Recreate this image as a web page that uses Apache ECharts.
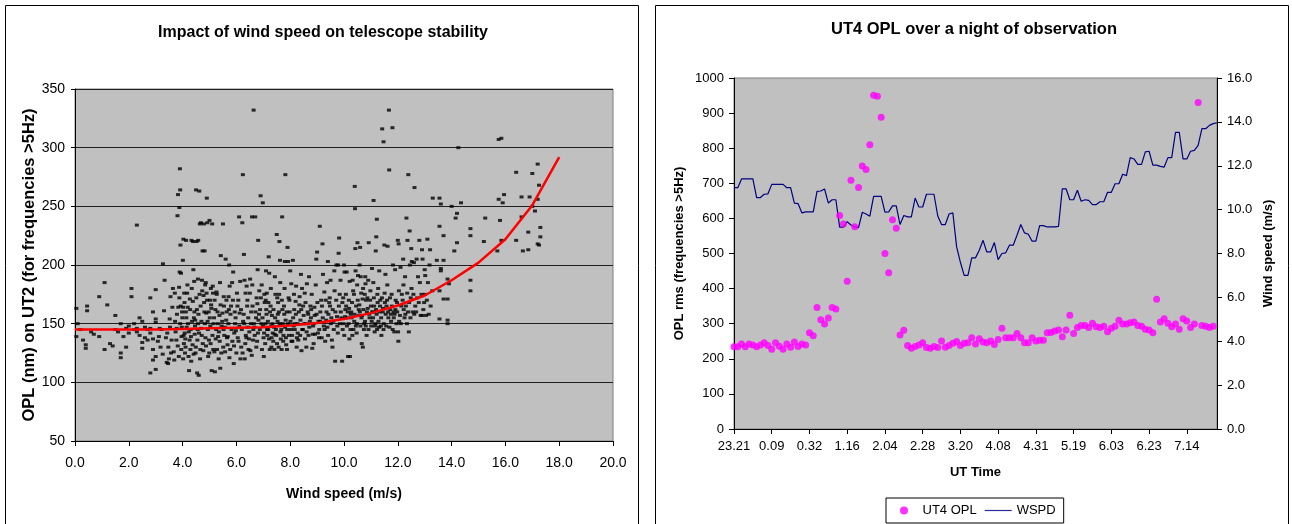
<!DOCTYPE html>
<html>
<head>
<meta charset="utf-8">
<script src="https://cdn.jsdelivr.net/npm/echarts@6/dist/echarts.min.js"></script>
<style>
html,body{margin:0;padding:0;background:#fff;}
#chart{width:1292px;height:524px;}
</style>
</head>
<body>
<div id="chart"></div>
<script>
// ---------- Left chart: OPL on UT2 vs wind speed ----------
const speedTicks = [0, 2, 4, 6, 8, 10, 12, 14, 16, 18, 20];
const ut2Points = [
[0.05,163],[0.05,139],[0.1,150],[0.2,145],[0.3,136],[0.4,132],[0.4,129],[0.45,165],[0.45,161],[0.6,143],[0.7,141],[0.9,173],[0.9,139],
[1.1,185],[1.1,128],[1.2,166],[1.3,133],[1.4,131],[1.5,157],[1.5,145],[1.6,143],[1.7,125],[1.7,121],[1.7,150],[1.8,139],[1.9,146],[1.9,130],[2.0,142],[2.0,148],
[2.1,180],[2.1,173],[2.2,150],[2.2,145],[2.3,234],[2.3,146],[2.3,143],[2.4,155],[2.4,140],[2.5,134],[2.5,152],[2.5,129],[2.6,138],[2.6,147],[2.7,145],[2.7,136],[2.8,146],[2.8,108],[2.8,142],[2.8,172],[2.9,160],[2.9,119],[2.9,128],[2.9,137],[3.0,154],[3.0,111],[3.0,122],[3.0,179],[3.0,151],
[3.12,139],[3.08,135],[3.15,146],[3.22,145],[3.18,130],[3.27,201],[3.33,187],[3.31,161],[3.26,124],[3.43,142],[3.38,138],[3.41,117],[3.46,116],[3.52,154],[3.47,130],[3.55,173],[3.49,120],[3.53,147],[3.62,164],[3.57,125],[3.64,180],[3.59,136],[3.72,152],[3.67,126],[3.74,143],[3.69,119],[3.71,176],[3.82,131],[3.77,136],[3.84,164],[3.81,242],[3.83,260],[3.79,158],[3.86,122],[3.78,146],
[3.91,264],[3.9,282],[3.88,249],[3.92,217],[3.89,194],[3.94,193],[3.87,181],[3.93,165],[3.96,139],[3.91,150],[3.95,128],[3.88,172],[4.02,164],[3.98,160],[4.04,140],[4.01,204],[4.03,222],[3.99,155],[4.05,133],[4.02,120],[3.97,147],[4.06,176],
[4.13,221],[4.08,142],[4.15,147],[4.11,130],[4.07,168],[4.14,155],[4.1,137],[4.17,176],[4.09,125],[4.12,160],
[4.22,122],[4.18,183],[4.24,110],[4.2,150],[4.26,136],[4.19,164],[4.23,143],[4.27,171],
[4.32,118],[4.28,162],[4.33,221],[4.31,139],[4.35,152],[4.29,128],[4.34,180],[4.3,145],
[4.42,155],[4.38,169],[4.45,141],[4.4,196],[4.43,186],[4.37,132],[4.46,148],[4.41,124],[4.39,220],[4.44,160],
[4.52,220],[4.48,125],[4.55,136],[4.51,172],[4.47,153],[4.54,108],[4.5,264],[4.56,145],[4.49,130],[4.53,162],[4.57,188],
[4.6,106],[4.62,263],[4.58,221],[4.64,235],[4.61,142],[4.59,158],[4.66,128],[4.63,175],[4.57,150],[4.65,120],
[4.72,187],[4.68,236],[4.74,212],[4.71,140],[4.67,165],[4.75,133],[4.7,152],[4.73,178],[4.69,146],
[4.82,212],[4.79,235],[4.84,183],[4.78,174],[4.81,160],[4.85,138],[4.77,127],[4.83,150],[4.8,168],[4.86,185],
[4.9,257],[4.92,236],[4.88,159],[4.94,145],[4.91,170],[4.87,131],[4.95,122],[4.89,176],[4.93,152],
[5.02,170],[4.98,136],[5.04,133],[5.0,238],[4.97,160],[5.03,148],[5.05,180],[4.99,125],[5.01,155],[5.06,166],
[5.1,235],[5.13,176],[5.08,110],[5.15,150],[5.11,140],[5.07,163],[5.14,128],[5.12,182],
[5.22,162],[5.18,126],[5.2,109],[5.25,145],[5.19,170],[5.23,137],[5.17,155],[5.26,177],
[5.32,139],[5.28,128],[5.35,143],[5.3,160],[5.27,175],[5.34,120],[5.31,150],
[5.4,112],[5.42,208],[5.38,135],[5.45,148],[5.41,166],[5.37,157],[5.44,125],[5.39,185],
[5.5,235],[5.53,173],[5.48,159],[5.55,140],[5.51,130],[5.47,152],[5.54,165],[5.52,145],
[5.62,153],[5.6,205],[5.65,138],[5.58,126],[5.63,170],[5.57,147],[5.64,160],
[5.72,162],[5.68,139],[5.75,182],[5.7,150],[5.67,132],[5.74,121],[5.71,173],[5.73,200],
[5.82,145],[5.78,158],[5.85,135],[5.8,165],[5.77,128],[5.84,185],
[5.9,116],[5.92,142],[5.88,194],[5.95,150],[5.91,131],[5.87,170],[5.94,160],
[6.02,176],[5.98,144],[6.05,138],[6.0,125],[5.97,155],[6.04,165],
[6.12,159],[6.1,241],[6.08,135],[6.15,120],[6.11,148],[6.07,170],[6.14,186],
[6.22,236],[6.24,277],[6.18,130],[6.25,152],[6.2,145],[6.17,162],[6.23,125],
[6.3,187],[6.33,133],[6.28,209],[6.35,140],[6.31,120],[6.27,158],[6.34,176],[6.29,150],
[6.42,147],[6.38,182],[6.45,128],[6.4,165],[6.37,138],[6.44,155],[6.41,170],
[6.52,127],[6.48,143],[6.55,160],[6.5,176],[6.47,137],[6.54,150],[6.51,188],
[6.62,136],[6.64,332],[6.58,241],[6.65,150],[6.6,165],[6.57,123],[6.63,145],[6.59,183],
[6.7,241],[6.73,155],[6.68,140],[6.75,172],[6.71,160],[6.67,147],[6.74,130],
[6.82,153],[6.78,167],[6.85,178],[6.8,142],[6.77,135],[6.84,158],[6.81,221],[6.79,196],
[6.9,259],[6.93,150],[6.88,162],[6.95,128],[6.91,172],[6.87,145],[6.94,183],
[6.98,253],[7.03,142],[6.97,155],[7.05,168],[7.01,138],[6.99,148],[7.04,175],[7.02,122],
[7.1,195],[7.13,176],[7.08,150],[7.15,140],[7.11,162],[7.07,133],[7.14,145],[7.12,158],[7.09,170],
[7.2,207],[7.22,193],[7.18,145],[7.25,160],[7.21,137],[7.17,152],[7.24,128],[7.19,168],
[7.32,157],[7.28,180],[7.35,142],[7.3,130],[7.27,165],[7.34,150],[7.31,138],[7.29,148],
[7.42,141],[7.38,162],[7.45,175],[7.4,147],[7.37,135],[7.44,155],[7.41,128],[7.43,190],
[7.5,226],[7.53,152],[7.48,140],[7.55,168],[7.51,133],[7.47,145],[7.54,158],[7.52,172],
[7.6,220],[7.62,204],[7.58,160],[7.65,137],[7.61,150],[7.57,130],[7.64,143],[7.59,175],[7.63,185],
[7.7,241],[7.72,150],[7.68,128],[7.75,140],[7.71,162],[7.67,145],[7.74,135],[7.69,170],
[7.82,277],[7.8,203],[7.78,158],[7.85,132],[7.81,147],[7.77,165],[7.84,138],[7.79,180],[7.83,153],
[7.9,215],[7.92,203],[7.88,128],[7.95,140],[7.91,150],[7.87,160],[7.94,172],[7.89,145],
[8.0,195],[8.03,145],[7.98,160],[8.05,135],[8.01,152],[7.97,170],[8.04,184],
[8.1,204],[8.13,148],[8.08,135],[8.15,162],[8.11,155],[8.07,140],[8.14,175],
[8.2,169],[8.22,182],[8.18,150],[8.25,138],[8.21,158],[8.17,145],[8.24,130],
[8.32,160],[8.28,142],[8.35,173],[8.3,136],[8.27,150],[8.34,166],
[8.4,192],[8.42,127],[8.38,153],[8.45,145],[8.41,162],[8.37,140],[8.44,180],
[8.52,150],[8.48,165],[8.55,137],[8.5,157],[8.47,145],[8.54,176],
[8.6,130],[8.62,184],[8.58,150],[8.65,160],[8.61,143],[8.57,168],
[8.7,190],[8.73,152],[8.68,140],[8.75,165],[8.71,147],[8.67,158],
[8.82,129],[8.78,162],[8.85,148],[8.8,175],[8.77,155],[8.84,141],
[8.9,164],[8.92,141],[8.88,150],[8.95,183],[8.91,157],[8.87,133],
[9.0,211],[9.03,142],[8.98,158],[9.05,152],[9.01,168],[8.97,205],
[9.1,233],[9.12,160],[9.08,145],[9.15,170],[9.11,152],[9.07,138],
[9.2,218],[9.22,192],[9.18,165],[9.25,148],[9.21,155],[9.17,138],
[9.32,170],[9.28,145],[9.35,160],[9.3,135],[9.27,177],[9.34,153],
[9.4,203],[9.42,158],[9.38,147],[9.45,168],[9.41,140],[9.37,185],
[9.5,187],[9.53,155],[9.48,165],[9.55,136],[9.51,150],[9.47,172],
[9.62,145],[9.58,162],[9.65,178],[9.6,152],[9.57,130],[9.64,195],
[9.67,118],[9.72,200],[9.68,160],[9.75,148],[9.71,170],[9.74,156],
[9.8,210],[9.82,223],[9.78,200],[9.85,150],[9.81,165],[9.77,142],[9.84,175],
[9.93,118],[9.88,160],[9.95,145],[9.9,155],[9.87,187],[9.94,168],
[10.0,200],[10.02,194],[9.98,150],[10.05,162],[10.01,140],[9.97,172],[10.04,156],
[10.1,194],[10.15,122],[10.08,165],[10.13,155],[10.11,148],[10.07,175],[10.14,160],
[10.2,137],[10.22,122],[10.18,170],[10.25,158],[10.21,186],[10.17,150],[10.24,145],[10.19,163],
[10.32,187],[10.28,155],[10.35,145],[10.3,168],[10.27,160],[10.34,178],[10.31,140],
[10.4,267],[10.41,248],[10.42,214],[10.38,152],[10.45,165],[10.37,175],[10.44,148],[10.39,158],[10.43,195],
[10.5,219],[10.52,191],[10.48,150],[10.55,162],[10.51,170],[10.47,142],[10.54,157],[10.49,183],
[10.62,190],[10.6,215],[10.58,200],[10.65,155],[10.61,148],[10.57,166],[10.64,176],[10.59,160],
[10.7,130],[10.66,133],[10.72,162],[10.75,150],[10.71,180],[10.67,157],[10.74,145],[10.69,171],
[10.8,184],[10.82,170],[10.78,152],[10.85,160],[10.81,148],[10.77,175],[10.84,140],[10.79,190],
[10.9,187],[10.92,219],[10.88,163],[10.95,155],[10.91,145],[10.87,172],[10.94,158],
[11.0,165],[11.03,152],[10.98,178],[11.05,160],[11.01,148],[10.97,170],[11.04,197],
[11.1,255],[11.12,165],[11.08,155],[11.15,148],[11.11,172],[11.07,160],[11.14,143],[11.09,185],
[11.2,224],[11.22,239],[11.18,212],[11.25,168],[11.21,158],[11.17,150],[11.24,175],[11.19,162],[11.23,145],
[11.32,160],[11.28,152],[11.35,170],[11.3,147],[11.27,180],[11.34,165],[11.31,195],
[11.42,316],[11.47,305],[11.38,155],[11.45,163],[11.41,172],[11.37,148],[11.44,160],[11.39,140],
[11.5,217],[11.52,168],[11.48,150],[11.55,158],[11.51,176],[11.47,145],[11.54,192],
[11.62,216],[11.58,165],[11.65,155],[11.6,170],[11.57,148],[11.64,160],[11.61,183],
[11.67,332],[11.68,281],[11.72,162],[11.75,152],[11.71,172],[11.69,147],[11.74,158],
[11.8,317],[11.82,200],[11.78,165],[11.85,155],[11.81,145],[11.77,175],[11.84,160],
[11.9,196],[11.92,170],[11.88,158],[11.95,150],[11.91,162],[11.87,143],
[12.0,221],[12.03,218],[11.98,160],[12.02,135],[12.05,152],[11.97,168],[12.04,178],[12.01,143],
[12.1,198],[12.13,165],[12.08,157],[12.15,175],[12.11,150],
[12.2,205],[12.22,162],[12.18,170],[12.25,155],[12.21,183],
[12.32,240],[12.28,158],[12.35,176],[12.3,165],[12.27,190],[12.34,150],
[12.39,277],[12.44,229],[12.36,221],[12.42,168],[12.38,160],[12.45,200],[12.41,143],
[12.5,214],[12.52,203],[12.48,172],[12.55,160],[12.51,180],[12.47,155],
[12.62,266],[12.6,202],[12.58,175],[12.65,165],[12.61,158],
[12.7,205],[12.72,172],[12.68,160],[12.75,190],
[12.8,221],[12.82,185],[12.78,168],[12.85,157],
[12.9,213],[12.92,205],[12.88,175],[12.95,162],[12.91,157],
[13.0,196],[13.02,191],[12.98,168],[13.05,157],[13.01,175],
[13.1,222],[13.12,185],[13.08,170],[13.15,158],[13.2,213],[13.22,165],[13.18,200],[13.3,257],[13.28,178],
[13.45,204],[13.55,257],[13.55,233],[13.55,178],[13.55,154],[13.6,252],[13.6,197],[13.6,195],
[13.7,225],[13.7,204],[13.7,171],[13.85,153],[13.85,150],[13.85,171],[13.85,188],[13.9,184],
[14.0,250],[14.1,212],[14.15,240],[14.2,244],[14.25,300],[14.2,219],[14.35,253],[14.7,231],[14.7,225],[14.7,187],[14.7,178],
[15.25,240],[15.2,220],[15.7,212],[15.75,256],[15.75,307],[15.85,308],[15.95,260],[15.9,253],[15.8,238],[15.85,221],
[16.4,279],[16.4,221],[16.6,241],[16.6,258],[16.65,212],[16.85,213],[16.85,228],[16.9,258],[17.0,250],[17.0,278],
[17.1,246],[17.2,286],[17.2,256],[17.25,268],[17.25,217],[17.3,232],[17.3,224],[17.2,218]
];
const fitSpeed = [0, 1, 2, 3, 4, 5, 6, 7, 8, 9, 10, 11, 12, 13, 14, 15, 16, 17, 18];
const fitOpl   = [145, 145, 145, 145, 145.5, 146, 146.5, 147, 148.5, 150.5, 154, 159, 165.5, 174, 187, 202, 222, 251, 292];

// ---------- Right chart: UT4 OPL over a night ----------
const timeTickLabels = ['23.21','0.09','0.32','1.16','2.04','2.28','3.20','4.08','4.31','5.19','6.03','6.23','7.14'];
const ut4Opl = [
234,234,242,234,242,239,234,239,246,238,
227,246,236,227,242,233,248,235,242,239,
274,266,346,311,299,316,346,342,608,584,
421,709,576,688,749,739,810,951,948,888,
500,445,596,572,268,281,238,230,235,239,
246,232,230,235,232,251,233,238,244,249,
238,244,246,260,242,257,248,246,251,241,
255,287,260,260,260,272,260,246,246,260,
251,253,253,274,275,279,282,263,282,324,
272,289,295,295,289,301,291,289,293,277,
287,293,310,299,299,303,305,295,293,284,
282,274,370,305,314,301,291,299,284,314,
308,289,299,930,295,293,289,293
];
const wspd = [
11.0,11.0,11.4,11.4,11.4,11.4,10.55,10.55,10.7,10.72,
11.15,11.15,11.15,11.15,11.0,11.0,10.3,10.27,9.85,9.9,
9.9,9.9,10.83,10.85,10.94,10.3,10.45,10.45,9.2,9.2,
9.45,9.3,9.21,9.18,9.88,9.8,9.7,10.6,10.6,10.6,
9.89,9.9,10.17,10.17,9.32,9.73,9.67,9.67,10.53,10.12,
10.12,10.7,10.7,10.7,9.71,9.32,9.32,9.8,9.85,8.3,
7.6,7.0,7.0,7.8,7.8,8.15,8.6,8.07,8.07,8.5,
7.72,8.0,8.03,8.38,8.38,8.83,9.32,8.94,8.88,8.56,
8.56,9.27,9.27,9.21,9.21,9.21,9.24,10.95,10.95,10.45,
10.45,10.88,10.38,10.45,10.42,10.23,10.23,10.36,10.36,10.79,
10.79,11.18,11.18,11.61,11.55,12.37,12.31,12.06,12.06,12.63,
12.66,12.03,12.03,11.97,11.94,12.37,12.37,13.52,13.52,12.31,
12.31,12.66,12.7,12.93,13.69,13.69,13.84,13.92,13.96
];
const opl4TickValues = [0,100,200,300,400,500,600,700,800,900,1000];

// categories: every 10th sample carries the printed time label
const timeCategories = wspd.map((_, i) => (i % 10 === 0 && timeTickLabels[i / 10]) ? timeTickLabels[i / 10] : '');

const SANS = "'Liberation Sans',Arial,sans-serif";

const chart = echarts.init(document.getElementById('chart'), null, {renderer: 'canvas', width: 1292, height: 524});

const axisBlack = {lineStyle: {color: '#000', width: 1}};
chart.setOption({
  animation: false,
  backgroundColor: '#fff',
  title: [
    {text: 'Impact of wind speed on telescope stability', left: 323, top: 25, textAlign: 'center', padding: 0,
     textStyle: {fontFamily: SANS, fontSize: 16, fontWeight: 'bold', color: '#000'}},
    {text: 'UT4 OPL over a night of observation', left: 974, top: 21, textAlign: 'center', padding: 0,
     textStyle: {fontFamily: SANS, fontSize: 16.5, fontWeight: 'bold', color: '#000'}}
  ],
  graphic: [
    {type: 'rect', z: -10, shape: {x: 5.5, y: 5.5, width: 633, height: 540}, style: {fill: 'none', stroke: '#000', lineWidth: 1}},
    {type: 'rect', z: -10, shape: {x: 655.5, y: 5.5, width: 633, height: 540}, style: {fill: 'none', stroke: '#000', lineWidth: 1}}
  ],
  legend: {
    left: 886, top: 498, orient: 'horizontal', padding: [6, 8, 6, 14], itemGap: 8, itemWidth: 27, itemHeight: 8,
    borderColor: '#000', borderWidth: 1, selectedMode: false,
    textStyle: {fontFamily: SANS, fontSize: 13, color: '#000'},
    data: [
      {name: 'UT4 OPL', icon: 'circle'},
      {name: 'WSPD', icon: 'path://M0,0L27,0L27,1.2L0,1.2Z', itemStyle: {color: '#2a2a9a'}}
    ]
  },
  grid: [
    {left: 75, top: 89, width: 538, height: 352, show: true, backgroundColor: '#c0c0c0', borderColor: '#808080', borderWidth: 1},
    {left: 734, top: 78, width: 483, height: 351, show: true, backgroundColor: '#c0c0c0', borderColor: '#808080', borderWidth: 1}
  ],
  xAxis: [
    {type: 'value', gridIndex: 0, min: speedTicks[0], max: speedTicks[speedTicks.length - 1], interval: 2,
     name: 'Wind speed (m/s)', nameLocation: 'middle', nameGap: 46,
     nameTextStyle: {fontFamily: SANS, fontSize: 14, fontWeight: 'bold', color: '#000'},
     axisLine: {show: true, onZero: false, ...axisBlack}, axisTick: {show: true, length: 5, inside: false, lineStyle: {color: '#000'}},
     axisLabel: {margin: 15, fontFamily: SANS, fontSize: 14, color: '#000', formatter: v => v.toFixed(1)},
     splitLine: {show: false}},
    {type: 'category', gridIndex: 1, data: timeCategories, boundaryGap: false,
     name: 'UT Time', nameLocation: 'middle', nameGap: 37,
     nameTextStyle: {fontFamily: SANS, fontSize: 13, fontWeight: 'bold', color: '#000'},
     axisLine: {show: true, onZero: false, ...axisBlack},
     axisTick: {show: true, interval: 9, length: 5, lineStyle: {color: '#000'}},
     axisLabel: {interval: 9, margin: 11, fontFamily: SANS, fontSize: 13, color: '#000'},
     splitLine: {show: false}}
  ],
  yAxis: [
    {type: 'value', gridIndex: 0, min: 50, max: 350, interval: 50,
     name: 'OPL (nm) on UT2 (for frequencies >5Hz)', nameLocation: 'middle', nameRotate: 90, nameGap: 34,
     nameTextStyle: {fontFamily: SANS, fontSize: 16.5, fontWeight: 'bold', color: '#000'},
     axisLine: {show: true, onZero: false, ...axisBlack}, axisTick: {show: true, length: 4, lineStyle: {color: '#000'}},
     axisLabel: {margin: 10, fontFamily: SANS, fontSize: 14, color: '#000'},
     splitLine: {show: true, lineStyle: {color: '#202020', width: 1}}},
    {type: 'value', gridIndex: 1, position: 'left', min: opl4TickValues[0], max: opl4TickValues[opl4TickValues.length - 1], interval: 100,
     name: 'OPL rms (frequencies >5Hz)', nameLocation: 'middle', nameRotate: 90, nameGap: 48,
     nameTextStyle: {fontFamily: SANS, fontSize: 13, fontWeight: 'bold', color: '#000'},
     axisLine: {show: true, onZero: false, ...axisBlack}, axisTick: {show: true, length: 5, lineStyle: {color: '#000'}},
     axisLabel: {margin: 10, fontFamily: SANS, fontSize: 13, color: '#000', formatter: v => String(v)},
     splitLine: {show: false}},
    {type: 'value', gridIndex: 1, position: 'right', min: 0, max: 16, interval: 2,
     name: 'Wind speed (m/s)', nameLocation: 'middle', nameRotate: 90, nameGap: 45,
     nameTextStyle: {fontFamily: SANS, fontSize: 13, fontWeight: 'bold', color: '#000'},
     axisLine: {show: true, onZero: false, ...axisBlack}, axisTick: {show: true, length: 5, lineStyle: {color: '#000'}},
     axisLabel: {margin: 10, fontFamily: SANS, fontSize: 13, color: '#000', formatter: v => v.toFixed(1)},
     splitLine: {show: false}}
  ],
  series: [
    {name: 'UT2 OPL', type: 'scatter', xAxisIndex: 0, yAxisIndex: 0, data: ut2Points,
     symbol: 'rect', symbolSize: [4, 3], itemStyle: {color: '#000'}, silent: true, z: 3},
    {name: 'Fit', type: 'line', xAxisIndex: 0, yAxisIndex: 0, data: fitSpeed.map((s, i) => [s, fitOpl[i]]),
     symbol: 'none', lineStyle: {color: '#ff0000', width: 2.5}, silent: true, z: 4},
    {name: 'UT4 OPL', type: 'scatter', xAxisIndex: 1, yAxisIndex: 1, data: ut4Opl,
     symbol: 'circle', symbolSize: 7, itemStyle: {color: '#ff00ff'}, silent: true, z: 4},
    {name: 'WSPD', type: 'line', xAxisIndex: 1, yAxisIndex: 2, data: wspd,
     symbol: 'none', lineStyle: {color: '#000080', width: 1.2}, itemStyle: {color: '#000080'}, silent: true, z: 3}
  ]
});
</script>
</body>
</html>
